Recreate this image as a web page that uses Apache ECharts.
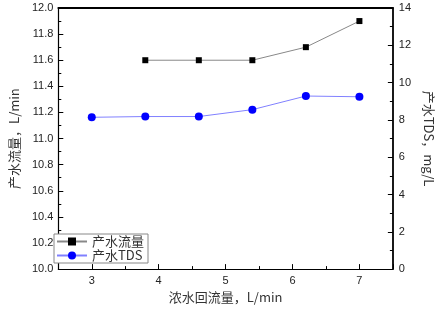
<!DOCTYPE html>
<html>
<head>
<meta charset="utf-8">
<script src="https://cdn.jsdelivr.net/npm/echarts@6/dist/echarts.min.js"></script>
<style>
  html, body { margin: 0; padding: 0; background: #fff; }
  #main { width: 443px; height: 309px; }
</style>
</head>
<body>
<div id="main"></div>
<script>
// 浓水回流量 (L/min)
var flowX = [3.8, 4.6, 5.4, 6.2, 7];
var tdsX = [3, 3.8, 4.6, 5.4, 6.2, 7];
// 产水流量 (L/min)
var flowVals = [11.6, 11.6, 11.6, 11.7, 11.9];
// 产水TDS (mg/L)
var tdsVals = [8.14, 8.18, 8.18, 8.55, 9.28, 9.24];

var seriesNames = ['产水流量', '产水TDS'];

function pairs(xs, ys) {
    return xs.map(function (x, i) { return [x, ys[i]]; });
}

var cjk = '"Noto Sans CJK SC", "Liberation Serif", serif';
var tickFont = { fontFamily: 'Liberation Sans, Arial, sans-serif', fontSize: 11, color: '#222' };
var lineStyle = { color: '#000', width: 1.2 };

var chart = echarts.init(document.getElementById('main'));
var option = {
    animation: false,
    grid: { left: 46, right: 42, top: 8, bottom: 39 },
    legend: {
        orient: 'vertical',
        left: 54, top: 234,
        padding: [1, 4, 1, 2],
        itemGap: 1,
        itemWidth: 30,
        itemHeight: 10,
        backgroundColor: '#fff',
        borderColor: '#888',
        borderWidth: 1,
        textStyle: { fontFamily: cjk, fontSize: 13, color: '#333' },
        data: seriesNames
    },
    xAxis: [{
        type: 'value',
        min: 2.5, max: 7.5,
        name: '浓水回流量，L/min',
        nameLocation: 'middle',
        nameGap: 18,
        nameTextStyle: { fontFamily: cjk, fontSize: 13, color: '#333' },
        axisLine: { lineStyle: lineStyle },
        axisTick: { inside: true, length: 5, lineStyle: { color: '#000' } },
        minorTick: { show: true, splitNumber: 2, length: 3, lineStyle: { color: '#000' } },
        axisLabel: Object.assign({
            margin: 6,
            formatter: function (v) { return Math.abs(v - Math.round(v)) < 1e-6 ? String(Math.round(v)) : ''; }
        }, tickFont),
        splitLine: { show: false }
    }, {
        type: 'value',
        position: 'top',
        min: 2.5, max: 7.5,
        axisLine: { lineStyle: { color: '#000', width: 1.8 } },
        axisTick: { show: false },
        axisLabel: { show: false },
        splitLine: { show: false }
    }],
    yAxis: [{
        type: 'value',
        min: 10, max: 12, interval: 0.2,
        name: '产水流量，L/min',
        nameLocation: 'middle',
        nameGap: 34,
        nameTextStyle: { fontFamily: cjk, fontSize: 13, color: '#333' },
        axisLine: { show: true, lineStyle: lineStyle },
        axisTick: { inside: true, length: 5, lineStyle: { color: '#000' } },
        minorTick: { show: true, splitNumber: 2, length: 3, lineStyle: { color: '#000' } },
        axisLabel: Object.assign({
            margin: 5,
            formatter: function (v) { return v.toFixed(1); }
        }, tickFont),
        splitLine: { show: false }
    }, {
        type: 'value',
        position: 'right',
        min: 0, max: 14, interval: 2,
        name: '产水TDS，mg/L',
        nameLocation: 'middle',
        nameRotate: -90,
        nameGap: 29,
        nameTextStyle: { fontFamily: cjk, fontSize: 13, color: '#333' },
        axisLine: { show: true, lineStyle: { color: '#000', width: 1.8 } },
        axisTick: { inside: true, length: 5, lineStyle: { color: '#000' } },
        minorTick: { show: true, splitNumber: 2, length: 3, lineStyle: { color: '#000' } },
        axisLabel: Object.assign({ margin: 6 }, tickFont),
        splitLine: { show: false }
    }],
    series: [{
        name: seriesNames[0],
        type: 'line',
        yAxisIndex: 0,
        data: pairs(flowX, flowVals),
        symbol: 'rect',
        symbolSize: 6,
        itemStyle: { color: '#000' },
        lineStyle: { color: '#888', width: 1 }
    }, {
        name: seriesNames[1],
        type: 'line',
        yAxisIndex: 1,
        data: pairs(tdsX, tdsVals),
        symbol: 'circle',
        symbolSize: 8,
        itemStyle: { color: '#0000ff' },
        lineStyle: { color: '#8080ff', width: 1 }
    }]
};
chart.setOption(option);
</script>
</body>
</html>
